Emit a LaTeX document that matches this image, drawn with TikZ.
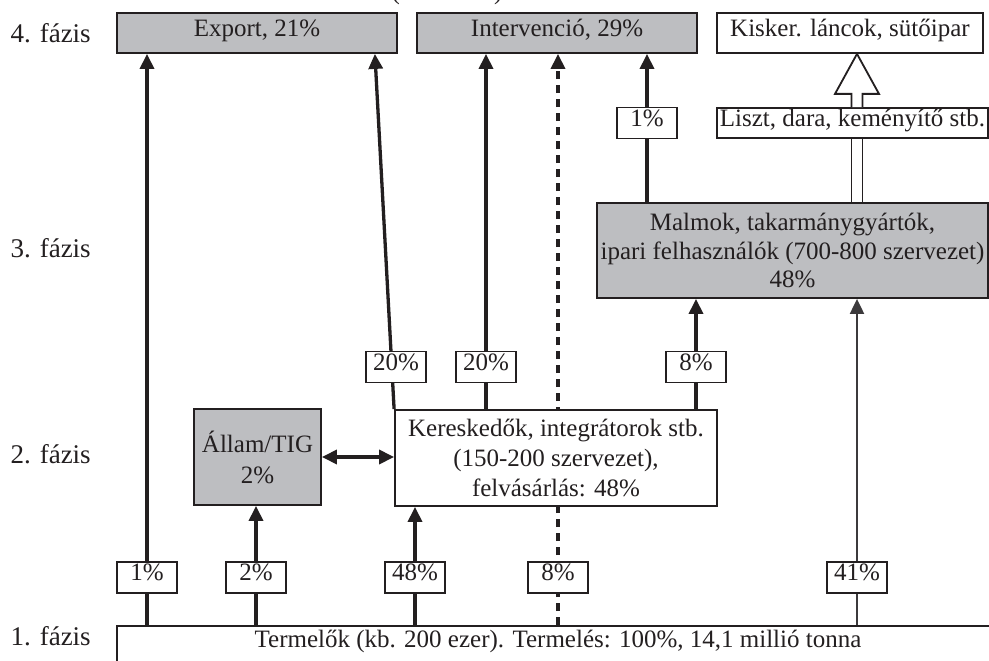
\documentclass[tikz,border=0pt]{standalone}
\usepackage{fontspec}
\setmainfont{Liberation Serif}
\usetikzlibrary{arrows.meta,calc,backgrounds}
\definecolor{ink}{RGB}{35,31,32}
\definecolor{boxgray}{RGB}{189,190,193}
\definecolor{thinink}{RGB}{60,58,60}
\begin{document}
\begin{tikzpicture}[x=1pt,y=-1pt,
  every node/.style={font=\fontsize{25}{29}\selectfont, text=ink},
  box/.style={draw=ink, line width=1.8pt, inner sep=0pt, align=center},
  graybox/.style={box, fill=boxgray},
  whitebox/.style={box, fill=white},
  oneline/.style={text height=0.66em, text depth=0pt},
  pct/.style={whitebox, oneline, minimum width=60pt, minimum height=31pt},
  phase/.style={anchor=base west, font=\fontsize{27}{30}\selectfont},
  tip/.tip={Triangle[length=15pt,width=14pt]},
  flow/.style={draw=ink, line width=3.3pt, -tip},
  thinflow/.style={draw=thinink, line width=2pt, -tip},
  dashflow/.style={flow, dash pattern=on 8pt off 6pt},
  hollow/.style={draw=ink, line width=1.8pt, fill=white, line join=miter}
]
\useasboundingbox (0,0) rectangle (989,661);
\clip (0,0) rectangle (989,661);

% partly visible title line above the chart
\node[anchor=base] (title) at (447,0) {(\hspace{94pt})};

% phase labels
\node[phase] (ph4) at (7,43)  {4. fázis};
\node[phase] (ph3) at (7,257) {3. fázis};
\node[phase] (ph2) at (7,463) {2. fázis};
\node[phase] (ph1) at (7,645) {1. fázis};

% phase 4
\node[graybox, oneline, minimum width=280pt, minimum height=40pt] (export) at (257,33) {Export, 21\%};
\node[graybox, oneline, minimum width=280pt, minimum height=40pt] (interv) at (557,33) {Intervenció, 29\%};
\node[whitebox, oneline, minimum width=266pt, minimum height=40pt] (kisker) at (850,33) {Kisker. láncok, sütőipar};
\node[whitebox, oneline, minimum width=271pt, minimum height=30pt] (liszt) at (852.5,123) {Liszt, dara, keményítő stb.};

% phase 3
\node[graybox, minimum width=391pt, minimum height=95pt, font=\fontsize{25}{28.5}\selectfont] (malmok) at (792.5,250.5)
  {Malmok, takarmánygyártók,\\ipari felhasználók (700-800 szervezet)\\48\%};

% phase 2
\node[graybox, minimum width=127pt, minimum height=96pt, font=\fontsize{25}{31}\selectfont] (allam) at (257.5,457) {Állam/TIG\\2\%};
\node[whitebox, minimum width=322pt, minimum height=96pt, font=\fontsize{25}{30}\selectfont] (ker) at (556,458)
  {Kereskedők, integrátorok stb.\\(150-200 szervezet),\\felvásárlás: 48\%};

% phase 1
\node[whitebox, oneline, minimum width=882pt, minimum height=36pt] (term) at (558,644)
  {Termelők (kb. 200 ezer). Termelés: 100\%, 14,1 millió tonna};

% share labels on the flows
\node[pct] (p1)   at (147,577.5) {1\%};
\node[pct] (p2)   at (256,577.5) {2\%};
\node[pct] (p48)  at (415,577.5) {48\%};
\node[pct] (p8)   at (558,577.5) {8\%};
\node[pct] (p41)  at (857,577.5) {41\%};
\node[pct] (p20a) at (396,367)   {20\%};
\node[pct] (p20b) at (486,367)   {20\%};
\node[pct] (p8b)  at (696,367)   {8\%};
\node[pct] (p1b)  at (647,123)   {1\%};

\coordinate (hx) at (857,0);

\begin{scope}[on background layer]
  % from the producers
  \draw[flow] (term.north -| p1) -- (export.south -| p1);
  \draw[flow] (term.north -| p2) -- (allam.south -| p2);
  \draw[flow] (term.north -| p48) -- (ker.south -| p48);
  \draw[dashflow] (term.north -| p8) -- (interv.south -| p8);
  \draw[thinflow] (term.north -| p41) -- (malmok.south -| p41);
  % from the traders
  \draw[flow] (ker.north west) -- ($(export.south east)+(-23,0)$);
  \draw[flow] (ker.north -| p20b) -- (interv.south -| p20b);
  \draw[flow] (ker.north -| p8b) -- (malmok.south -| p8b);
  % from the mills
  \draw[flow] (malmok.north -| p1b) -- (interv.south -| p1b);
  % state <-> traders
  \draw[flow, tip-tip] (allam.east) -- (allam.east -| ker.west);
\end{scope}

% hollow product flow: mills -> flour etc. -> retail
\draw[draw=ink, line width=1.8pt]
  ($(liszt.south -| hx)+(-5.5,0)$) -- ($(malmok.north -| hx)+(-5.5,0)$)
  ($(liszt.south -| hx)+(5.5,0)$) -- ($(malmok.north -| hx)+(5.5,0)$);
\draw[hollow]
  ($(liszt.north -| hx)+(-5.5,0)$) -- ($(kisker.south -| hx)+(-5.5,40)$)
  -- ($(kisker.south -| hx)+(-22,40)$) -- (kisker.south -| hx)
  -- ($(kisker.south -| hx)+(22,40)$) -- ($(kisker.south -| hx)+(5.5,40)$)
  -- ($(liszt.north -| hx)+(5.5,0)$);
\end{tikzpicture}
\end{document}
